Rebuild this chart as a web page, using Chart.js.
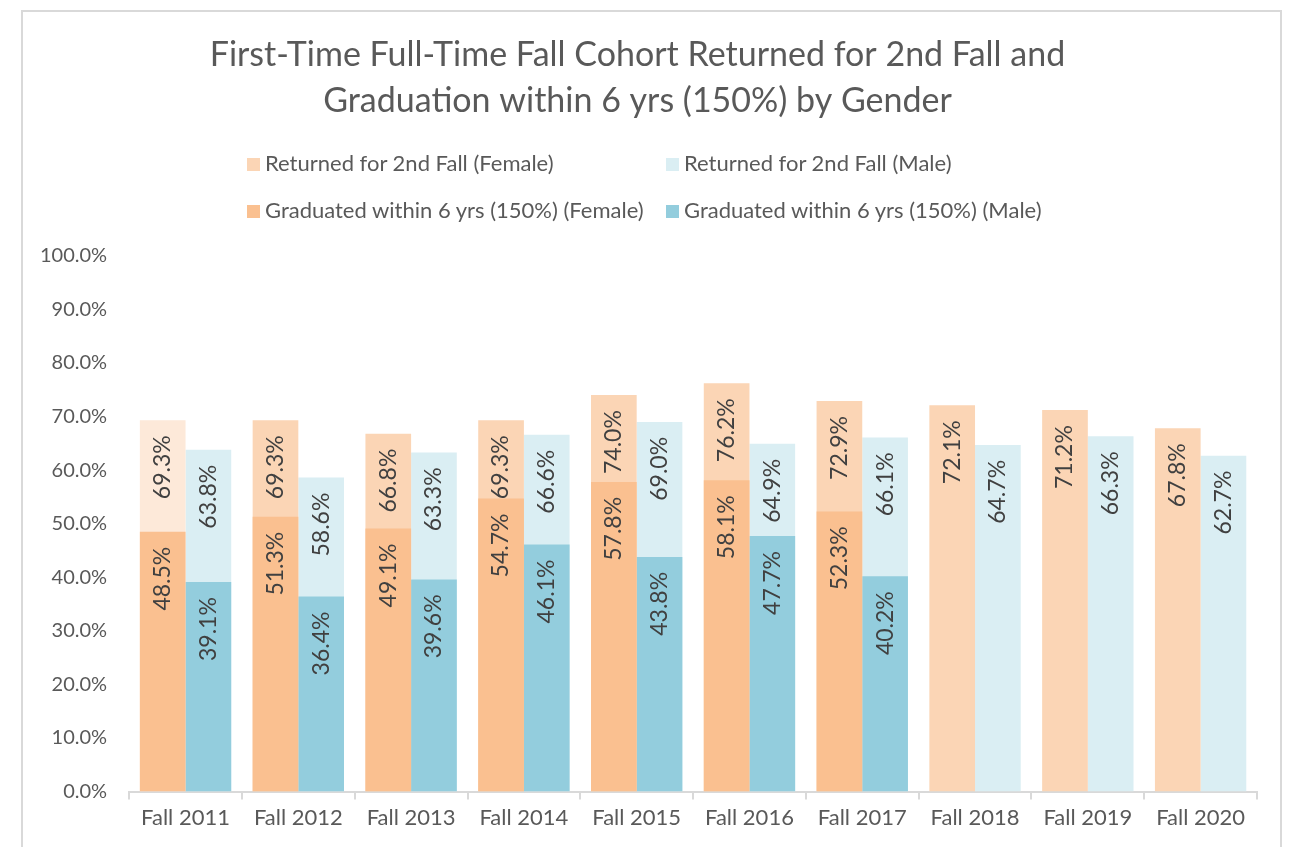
<!DOCTYPE html>
<html>
<head>
<meta charset="utf-8">
<script src="https://cdn.jsdelivr.net/npm/chart.js@4.4.1/dist/chart.umd.min.js"></script>
<style>
  html, body { margin: 0; padding: 0; background: #fff; overflow: hidden; }
  body { width: 1312px; height: 847px; position: relative; font-family: Lato, sans-serif; }
  #frame { position: absolute; left: 21px; top: 10px; width: 1261px; height: 900px; border: 2px solid #d9d9d9; box-sizing: border-box; }
  #wrap { position: absolute; left: 0; top: 0; width: 1312px; height: 847px; }
  .legend { position: absolute; font-size: 22px; line-height: 26px; color: #595959; white-space: nowrap; }
  .legend span.box { display: inline-block; width: 13px; height: 13px; margin-right: 5px; vertical-align: 0px; }
</style>
</head>
<body>
<div id="frame"></div>
<div id="wrap"><canvas id="cohortChart" width="1312" height="847"></canvas></div>
<div id="legend"></div>
<script>
// Data
const years = ['Fall 2011', 'Fall 2012', 'Fall 2013', 'Fall 2014', 'Fall 2015',
               'Fall 2016', 'Fall 2017', 'Fall 2018', 'Fall 2019', 'Fall 2020'];
const returnedFemale = [69.3, 69.3, 66.8, 69.3, 74.0, 76.2, 72.9, 72.1, 71.2, 67.8];
const returnedMale = [63.8, 58.6, 63.3, 66.6, 69.0, 64.9, 66.1, 64.7, 66.3, 62.7];
const gradFemale = [48.5, 51.3, 49.1, 54.7, 57.8, 58.1, 52.3, null, null, null];
const gradMale = [39.1, 36.4, 39.6, 46.1, 43.8, 47.7, 40.2, null, null, null];
const yTicks = [0, 10, 20, 30, 40, 50, 60, 70, 80, 90, 100];

const colReturnedF = '#fbd5b5';
const colReturnedFFirst = '#fde9d9';
const colReturnedM = '#daeef3';
const colGradF = '#fac090';
const colGradM = '#93cddd';

// Legend (two aligned columns)
const legendItems = [
    ['Returned for 2nd Fall (Female)', colReturnedF, 247, 150],
    ['Returned for 2nd Fall (Male)', colReturnedM, 666, 150],
    ['Graduated within 6 yrs (150%) (Female)', colGradF, 247, 197],
    ['Graduated within 6 yrs (150%) (Male)', colGradM, 666, 197]
];
const legendEl = document.getElementById('legend');
legendItems.forEach(([text, color, x, y]) => {
    const d = document.createElement('div');
    d.className = 'legend';
    d.style.left = x + 'px';
    d.style.top = y + 'px';
    d.innerHTML = '<span class="box" style="background:' + color + '"></span>' + text;
    legendEl.appendChild(d);
});

// rotated value labels near the top of each bar
const barLabels = {
    id: 'barLabels',
    afterDatasetsDraw(chart) {
        const ctx = chart.ctx;
        ctx.save();
        ctx.font = '23px Lato';
        ctx.fillStyle = '#404040';
        ctx.textAlign = 'right';
        ctx.textBaseline = 'middle';
        chart.data.datasets.forEach((ds, i) => {
            const meta = chart.getDatasetMeta(i);
            meta.data.forEach((bar, j) => {
                const v = ds.data[j];
                if (v === null || v === undefined) return;
                ctx.save();
                ctx.translate(bar.x, bar.y + 15);
                ctx.rotate(-Math.PI / 2);
                ctx.fillText(v.toFixed(1) + '%', 0, 0);
                ctx.restore();
            });
        });
        ctx.restore();
    }
};

const ctx = document.getElementById('cohortChart').getContext('2d');
new Chart(ctx, {
    type: 'bar',
    data: {
        labels: years,
        datasets: [{
            label: 'Returned for 2nd Fall (Female)',
            data: returnedFemale,
            backgroundColor: returnedFemale.map((v, i) => i === 0 ? colReturnedFFirst : colReturnedF),
            stack: 'female',
            order: 1
        }, {
            label: 'Returned for 2nd Fall (Male)',
            data: returnedMale,
            backgroundColor: colReturnedM,
            stack: 'male',
            order: 1
        }, {
            label: 'Graduated within 6 yrs (150%) (Female)',
            data: gradFemale,
            backgroundColor: colGradF,
            stack: 'female',
            order: 0
        }, {
            label: 'Graduated within 6 yrs (150%) (Male)',
            data: gradMale,
            backgroundColor: colGradM,
            stack: 'male',
            order: 0
        }]
    },
    options: {
        responsive: false,
        animation: false,
        categoryPercentage: 0.81,
        barPercentage: 1.0,
        layout: { padding: { left: 18, right: 55, top: 0, bottom: 11 } },
        plugins: {
            legend: { display: false },
            tooltip: { enabled: false },
            title: {
                display: true,
                text: ['First-Time Full-Time Fall Cohort Returned for 2nd Fall and',
                       'Graduation within 6 yrs (150%) by Gender'],
                color: '#595959',
                font: { family: 'Lato', size: 34, weight: 'normal', lineHeight: 1.35 },
                padding: { top: 32, bottom: 132 }
            }
        },
        scales: {
            x: {
                grid: { display: true, drawOnChartArea: false, drawTicks: true, tickLength: 8, color: '#d9d9d9', lineWidth: 2 },
                border: { display: true, color: '#d9d9d9', width: 2 },
                ticks: { color: '#595959', font: { family: 'Lato', size: 22 }, padding: 5, maxRotation: 0 }
            },
            y: {
                stacked: false,
                min: 0,
                max: 100,
                afterBuildTicks: (axis) => { axis.ticks = yTicks.map(v => ({ value: v })); },
                grid: { display: false, drawTicks: false },
                border: { display: false },
                ticks: {
                    color: '#595959',
                    font: { family: 'Lato', size: 20 },
                    padding: 22,
                    callback: (v) => v.toFixed(1) + '%'
                }
            }
        }
    },
    plugins: [barLabels]
});
</script>
</body>
</html>
